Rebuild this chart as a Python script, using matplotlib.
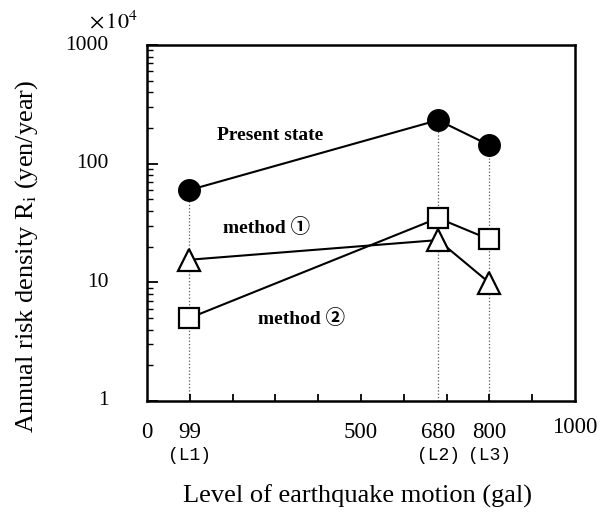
import numpy as np
import matplotlib.pyplot as plt
from matplotlib.ticker import LogLocator, NullFormatter, FixedLocator

plt.rcParams['font.family'] = ['Liberation Serif', 'Noto Sans CJK JP', 'DejaVu Sans']
plt.rcParams['mathtext.fontset'] = 'stix'

# Niveis do sismo (gal)
levels = [99, 680, 800]

# Densidade de risco anual (x10^4 yen/year)
present = [60, 233, 143]
method1 = [15.5, 22.7, 9.9]
method2 = [5.0, 34.8, 23.0]

xlab_pos = [0, 99, 500, 680, 800, 1000]
xlab_txt = ['0', '99', '500', '680', '800', '1000']
xlab_sub = {99: '(L1)', 680: '(L2)', 800: '(L3)'}
ylab_pos = [1, 10, 100, 1000]

fig = plt.figure(figsize=(6.13, 5.18), dpi=100)
ax = fig.add_axes([0.240, 0.226, 0.698, 0.687])
ax.set_yscale('log')
ax.set_xlim(0, 1000)
ax.set_ylim(1, 1000)

# linhas pontilhadas verticais
for x, a, b, c in zip(levels, present, method1, method2):
    ax.plot([x, x], [1, max(a, b, c)], ls=':', color='0.35', lw=0.9, zorder=1)

ax.plot(levels, present, '-o', color='k', lw=1.5, ms=15.5, mfc='k', zorder=3)
ax.plot(levels, method1, '-^', color='k', lw=1.5, ms=16, mfc='white', mew=1.6, zorder=3)
ax.plot(levels, method2, '-s', color='k', lw=1.5, ms=15, mfc='white', mew=1.6, zorder=4)

ax.text(163, 174, 'Present state', fontsize=14, fontweight='bold', va='center')
ax.text(178, 28.7, 'method \u2460', fontsize=14, fontweight='bold', va='center')
ax.text(259, 5.0, 'method \u2461', fontsize=14, fontweight='bold', va='center')

for s in ax.spines.values():
    s.set_linewidth(1.8)

ax.xaxis.set_major_locator(FixedLocator(np.arange(100, 1000, 100)))
ax.set_xticklabels([])
ax.tick_params(axis='x', which='major', direction='in', length=5, width=1.3)
ax.yaxis.set_major_locator(FixedLocator(ylab_pos))
ax.yaxis.set_minor_locator(LogLocator(base=10, subs=np.arange(2, 10)))
ax.yaxis.set_minor_formatter(NullFormatter())
ax.set_yticklabels([])
ax.tick_params(axis='y', which='major', direction='in', length=8, width=1.3)
ax.tick_params(axis='y', which='minor', direction='in', length=4, width=1.0)

for x, t in zip(xlab_pos, xlab_txt):
    dy = -0.075 if x == 1000 else -0.088
    ax.text(x, dy, t, transform=ax.get_xaxis_transform(), ha='center',
            va='center', fontsize=16.5)
    if x in xlab_sub:
        ax.text(x, -0.152, xlab_sub[x], transform=ax.get_xaxis_transform(),
                ha='center', va='center', fontsize=13, family='Liberation Mono')

for y in ylab_pos:
    ax.text(-0.09, y, str(y), transform=ax.get_yaxis_transform(), ha='right',
            va='center', fontsize=15.5)

fig.text(0.145, 0.958, '$\\times\\,10^4$', ha='left', va='center', fontsize=16)
fig.text(0.044, 0.506, 'Annual risk density R$_{\\mathrm{i}}$ (yen/year)',
         rotation=90, ha='center', va='center', fontsize=19)
fig.text(0.583, 0.042, 'Level of earthquake motion (gal)', ha='center',
         va='center', fontsize=19)

plt.savefig('out.png', dpi=100)
